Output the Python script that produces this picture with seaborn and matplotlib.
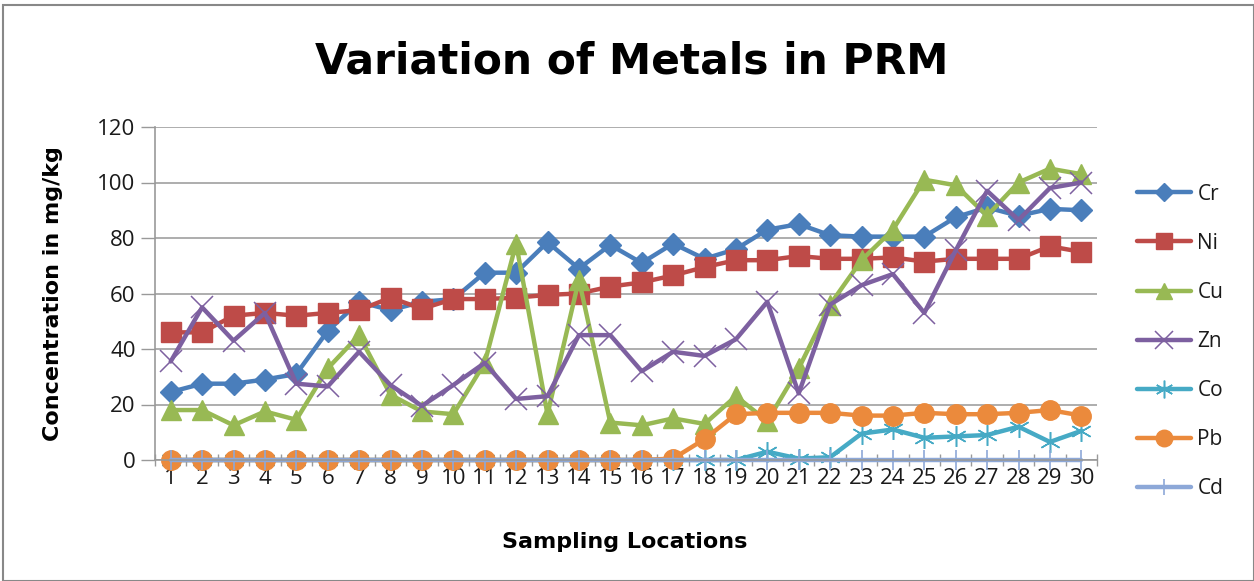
import matplotlib
matplotlib.use("Agg")
import matplotlib.pyplot as plt
import seaborn as sns
import pandas as pd
from matplotlib.patches import Rectangle
from matplotlib.ticker import FixedLocator

locations = list(range(1, 31))
cr = [24.5, 27.5, 27.5, 29, 31, 46.5, 57, 54, 57, 58, 67.5, 67.5, 78.5, 69, 77.5,
      71, 78, 72.5, 76, 83, 85, 81, 80.5, 80.5, 80.5, 87.5, 91, 88, 90.5, 90]
ni = [46, 46, 52, 53, 52, 53, 54, 58.5, 54.5, 58, 58, 58.5, 59.5, 60, 62.5,
      64, 66.5, 69.5, 72, 72, 73.5, 72.5, 72.5, 73, 71.5, 72.5, 72.5, 72.5, 77, 75]
cu = [18, 18, 12.5, 17.5, 14.5, 33, 45, 23.5, 17.5, 16.5, 35, 78, 16.5, 65, 13.5,
      12.5, 15, 13, 23, 14, 33, 56, 72, 83, 101, 99, 88, 100, 105, 103]
zn = [35.5, 55, 43, 53, 27.5, 26.5, 39, 27, 19.5, 27, 35, 22, 23, 45, 45,
      32, 39, 37.5, 43.5, 57, 24, 56, 63, 67, 53, 75.5, 97, 86.5, 98, 100]
co = [0, 0, 0, 0, 0, 0, 0, 0, 0, 0, 0, 0, 0, 0, 0,
      0, 0, 0, 0, 3, 0.5, 1, 9.5, 11, 8, 8.5, 9, 12, 6.5, 10.5]
pb = [0, 0, 0, 0, 0, 0, 0, 0, 0, 0, 0, 0, 0, 0, 0,
      0, 0.5, 7.5, 16.5, 17, 17, 17, 16, 16, 17, 16.5, 16.5, 17, 18, 16]
cd = [0] * 30

metals = ["Cr", "Ni", "Cu", "Zn", "Co", "Pb", "Cd"]
series = [cr, ni, cu, zn, co, pb, cd]
colors = ["#4A7EBB", "#BE4B48", "#98B954", "#7D60A0", "#46AAC5", "#EB8A3C", "#8DA8D8"]
markers = ["D", "s", "^", "x", (6, 2, 0), "o", "|"]
msizes = [11, 14, 14, 16, 15, 14, 14]
mews = [1, 1, 1, 1.1, 1.1, 1, 1.2]

sns.set_theme(style="white")
plt.rcParams["font.family"] = ["Open Sans", "DejaVu Sans"]
plt.rcParams["text.color"] = "black"

fig = plt.figure(figsize=(12.54, 5.81), dpi=100)
ax = fig.add_axes([155 / 1254, 1 - 460 / 581, 942 / 1254, 333 / 581])

for name, vals, c, m, ms, mw in zip(metals, series, colors, markers, msizes, mews):
    df = pd.DataFrame({"loc": locations, "val": vals})
    sns.lineplot(data=df, x="loc", y="val", ax=ax, color=c, marker=m,
                 markersize=ms, markeredgewidth=mw, markeredgecolor=c,
                 linewidth=3.2, label=name, legend=False, clip_on=False)

ax.set_xlim(0.5, 30.5)
ax.set_ylim(0, 120)
ax.set_yticks(range(0, 121, 20))
ax.set_xticks(locations)
ax.set_xticklabels([str(v) for v in locations])
ax.xaxis.set_minor_locator(FixedLocator([i + 0.5 for i in range(0, 31)]))
ax.tick_params(axis="x", which="major", length=0, labelsize=16, pad=6, labelcolor="#1a1a1a")
ax.tick_params(axis="x", which="minor", length=8, direction="inout", color="#999999", width=1, bottom=True)
ax.tick_params(axis="y", which="major", length=10, direction="out", color="#999999",
               width=1, labelsize=16, pad=4, left=True, labelcolor="#1a1a1a")
ax.yaxis.grid(True, color="#A0A0A0", linewidth=1.2)
ax.xaxis.grid(False)
for s in ["top", "right"]:
    ax.spines[s].set_visible(False)
for s in ["left", "bottom"]:
    ax.spines[s].set_color("#999999")
    ax.spines[s].set_linewidth(1.2)
ax.set_axisbelow(True)

ax.set_xlabel("Sampling Locations", fontsize=16, fontweight="bold",
              family=["DejaVu Sans"], color="black")
ax.xaxis.set_label_coords(0.499, -0.215)
ax.set_ylabel("Concentration in mg/kg", fontsize=16, fontweight="bold",
              family=["DejaVu Sans"], color="black")
ax.yaxis.set_label_coords(-0.098, 0.5)

fig.text(0.504, 1 - 62 / 581, "Variation of Metals in PRM", ha="center", va="center",
         fontsize=30.5, fontweight="bold", family=["DejaVu Sans"], color="black")

handles, labels = ax.get_legend_handles_labels()
leg = fig.legend(handles, labels, loc="center left", bbox_to_anchor=(1137 / 1254, 1 - 341.5 / 581),
                 frameon=False, fontsize=15, handlelength=2.6, handletextpad=0.3,
                 labelspacing=1.35, borderpad=0, borderaxespad=0, markerscale=0.85)
for t in leg.get_texts():
    t.set_color("#1a1a1a")

fig.patches.append(Rectangle((3 / 1254, 0), 1 - 3 / 1254, 1 - 5 / 581,
                             transform=fig.transFigure, fill=False,
                             edgecolor="#888888", linewidth=1.5))

fig.savefig("out.png", dpi=100)
